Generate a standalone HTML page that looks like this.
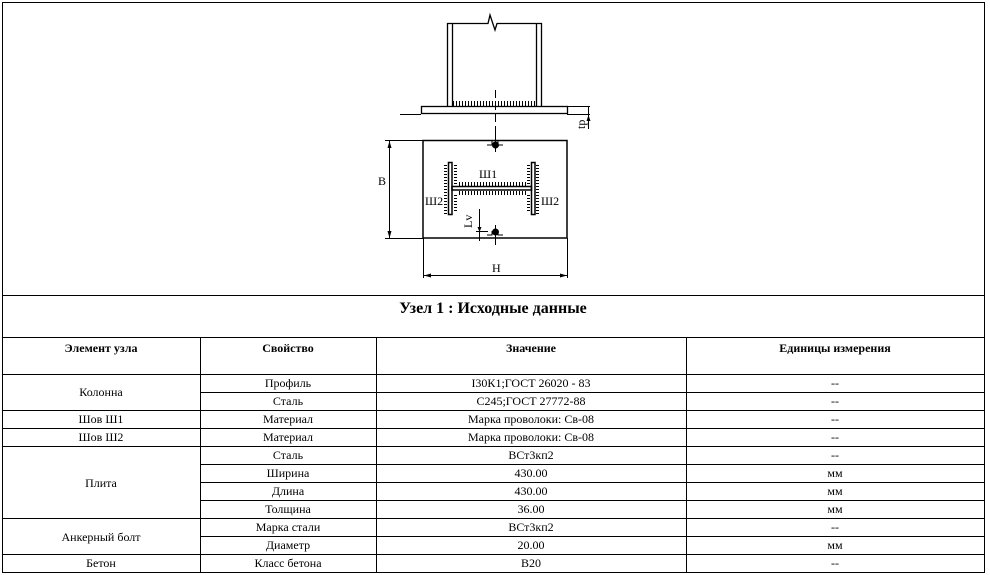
<!DOCTYPE html>
<html><head><meta charset="utf-8"><style>
html,body{margin:0;padding:0;background:#fff}
svg{display:block}
text{font-family:"Liberation Serif",serif;font-size:12px;fill:#000}
</style></head><body>
<svg width="990" height="575" viewBox="0 0 990 575" xmlns="http://www.w3.org/2000/svg">
<defs>
<pattern id="tv" width="3" height="3" patternUnits="userSpaceOnUse"><rect x="0" y="0" width="1" height="3" fill="#000"/></pattern>
<pattern id="th" width="3" height="3" patternUnits="userSpaceOnUse"><rect x="0" y="0" width="3" height="1" fill="#000"/></pattern>
</defs>
<g stroke="#000" fill="none">
<!-- outer border -->
<rect x="2.5" y="2.5" width="982" height="570" stroke-width="1"/>
<line x1="2" y1="295.5" x2="985" y2="295.5"/>
<line x1="2" y1="337.5" x2="985" y2="337.5"/>
<line x1="2" y1="374.5" x2="985" y2="374.5"/>
<line x1="200" y1="392.5" x2="985" y2="392.5"/>
<line x1="2" y1="410.5" x2="985" y2="410.5"/>
<line x1="2" y1="428.5" x2="985" y2="428.5"/>
<line x1="2" y1="446.5" x2="985" y2="446.5"/>
<line x1="200" y1="464.5" x2="985" y2="464.5"/>
<line x1="200" y1="482.5" x2="985" y2="482.5"/>
<line x1="200" y1="500.5" x2="985" y2="500.5"/>
<line x1="2" y1="518.5" x2="985" y2="518.5"/>
<line x1="200" y1="536.5" x2="985" y2="536.5"/>
<line x1="2" y1="554.5" x2="985" y2="554.5"/>
<line x1="200.5" y1="337" x2="200.5" y2="573"/>
<line x1="376.5" y1="337" x2="376.5" y2="573"/>
<line x1="686.5" y1="337" x2="686.5" y2="573"/>

<!-- column elevation -->
<g stroke-width="1.3">
<polyline points="447.5,106 447.5,23.5 488,23.5 490,15 495,30 497,23.5 541.5,23.5 541.5,106"/>
<line x1="452.5" y1="23" x2="452.5" y2="106"/>
<line x1="536.5" y1="23" x2="536.5" y2="106"/>
<rect x="421.5" y="106.5" width="146" height="7"/>
</g>
<rect x="453" y="101" width="83" height="5" fill="url(#tv)" stroke="none"/>
<line x1="495.5" y1="90" x2="495.5" y2="135" stroke-dasharray="8,4"/>
<line x1="400" y1="114.5" x2="421" y2="114.5"/>
<line x1="567" y1="106.5" x2="590" y2="106.5"/>
<line x1="567" y1="114.5" x2="590" y2="114.5"/>
<line x1="588.5" y1="106" x2="588.5" y2="129"/>

<!-- plan -->
<rect x="423" y="140.5" width="144" height="97.5" stroke-width="1.5"/>
<path d="M487,145 h5 v-4 M498,141 v4 h5" />
<circle cx="495.5" cy="145" r="3" fill="#000"/>
<line x1="495.5" y1="133" x2="495.5" y2="152"/>
<path d="M487,235 h5 v-4 M498,231 v4 h5" />
<circle cx="495.5" cy="232" r="3" fill="#000"/>
<line x1="495.5" y1="225" x2="495.5" y2="245"/>
<!-- I-beam -->
<g stroke-width="1.5">
<rect x="448.5" y="162.5" width="3.5" height="52"/>
<rect x="531.5" y="162.5" width="3.5" height="52"/>
<rect x="452" y="186.5" width="79.5" height="3.5"/>
</g>
<rect x="444" y="164" width="3" height="50" fill="url(#th)" stroke="none"/>
<rect x="454" y="164" width="3" height="20" fill="url(#th)" stroke="none"/>
<rect x="454" y="193" width="3" height="20" fill="url(#th)" stroke="none"/>
<rect x="536" y="164" width="3" height="50" fill="url(#th)" stroke="none"/>
<rect x="527" y="164" width="3" height="20" fill="url(#th)" stroke="none"/>
<rect x="527" y="193" width="3" height="20" fill="url(#th)" stroke="none"/>
<rect x="457" y="182" width="70" height="4" fill="url(#tv)" stroke="none"/>
<rect x="457" y="191" width="70" height="4" fill="url(#tv)" stroke="none"/>
<!-- Lv -->
<line x1="479.5" y1="209" x2="479.5" y2="241"/>
<line x1="476" y1="231.5" x2="488" y2="231.5"/>
<!-- dims -->
<line x1="385" y1="140.5" x2="423" y2="140.5"/>
<line x1="385" y1="238.5" x2="423" y2="238.5"/>
<line x1="389.5" y1="141" x2="389.5" y2="238"/>
<line x1="423.5" y1="238" x2="423.5" y2="278"/>
<line x1="567.5" y1="238" x2="567.5" y2="278"/>
<line x1="424" y1="275.5" x2="567" y2="275.5"/>
</g>
<g fill="#000">
<path d="M389.5,141 l-2,7 h4z M389.5,238 l-2,-7 h4z M424,275.5 l7,-2 v4z M567,275.5 l-7,-2 v4z M588.5,115 l-2,6 h4z M479.5,232 l-2,-5 h4z"/>
</g>
<text x="378" y="185">B</text>
<text x="492" y="272">H</text>
<text x="479" y="178">Ш1</text>
<text x="425" y="205">Ш2</text>
<text x="541" y="205">Ш2</text>
<text transform="translate(585,129) rotate(-90)" font-size="11">tp</text>
<text transform="translate(472,228) rotate(-90)" font-size="11">Lv</text>

<text x="493" y="313" text-anchor="middle" font-weight="bold" style="font-size:16px">Узел 1 : Исходные данные</text>
<g font-weight="bold" text-anchor="middle">
<text x="101" y="352">Элемент узла</text>
<text x="288" y="352">Свойство</text>
<text x="531" y="352">Значение</text>
<text x="835" y="352">Единицы измерения</text>
</g>
<g text-anchor="middle">
<text x="101" y="396">Колонна</text>
<text x="288" y="387">Профиль</text><text x="531" y="387">I30К1;ГОСТ 26020 - 83</text><text x="835" y="387">--</text>
<text x="288" y="405">Сталь</text><text x="531" y="405">С245;ГОСТ 27772-88</text><text x="835" y="405">--</text>
<text x="101" y="423">Шов Ш1</text><text x="288" y="423">Материал</text><text x="531" y="423">Марка проволоки: Св-08</text><text x="835" y="423">--</text>
<text x="101" y="441">Шов Ш2</text><text x="288" y="441">Материал</text><text x="531" y="441">Марка проволоки: Св-08</text><text x="835" y="441">--</text>
<text x="101" y="487">Плита</text>
<text x="288" y="459">Сталь</text><text x="531" y="459">ВСт3кп2</text><text x="835" y="459">--</text>
<text x="288" y="477">Ширина</text><text x="531" y="477">430.00</text><text x="835" y="477">мм</text>
<text x="288" y="495">Длина</text><text x="531" y="495">430.00</text><text x="835" y="495">мм</text>
<text x="288" y="513">Толщина</text><text x="531" y="513">36.00</text><text x="835" y="513">мм</text>
<text x="101" y="541">Анкерный болт</text>
<text x="288" y="531">Марка стали</text><text x="531" y="531">ВСт3кп2</text><text x="835" y="531">--</text>
<text x="288" y="549">Диаметр</text><text x="531" y="549">20.00</text><text x="835" y="549">мм</text>
<text x="101" y="567">Бетон</text><text x="288" y="567">Класс бетона</text><text x="531" y="567">B20</text><text x="835" y="567">--</text>
</g>
</svg>
</body></html>
